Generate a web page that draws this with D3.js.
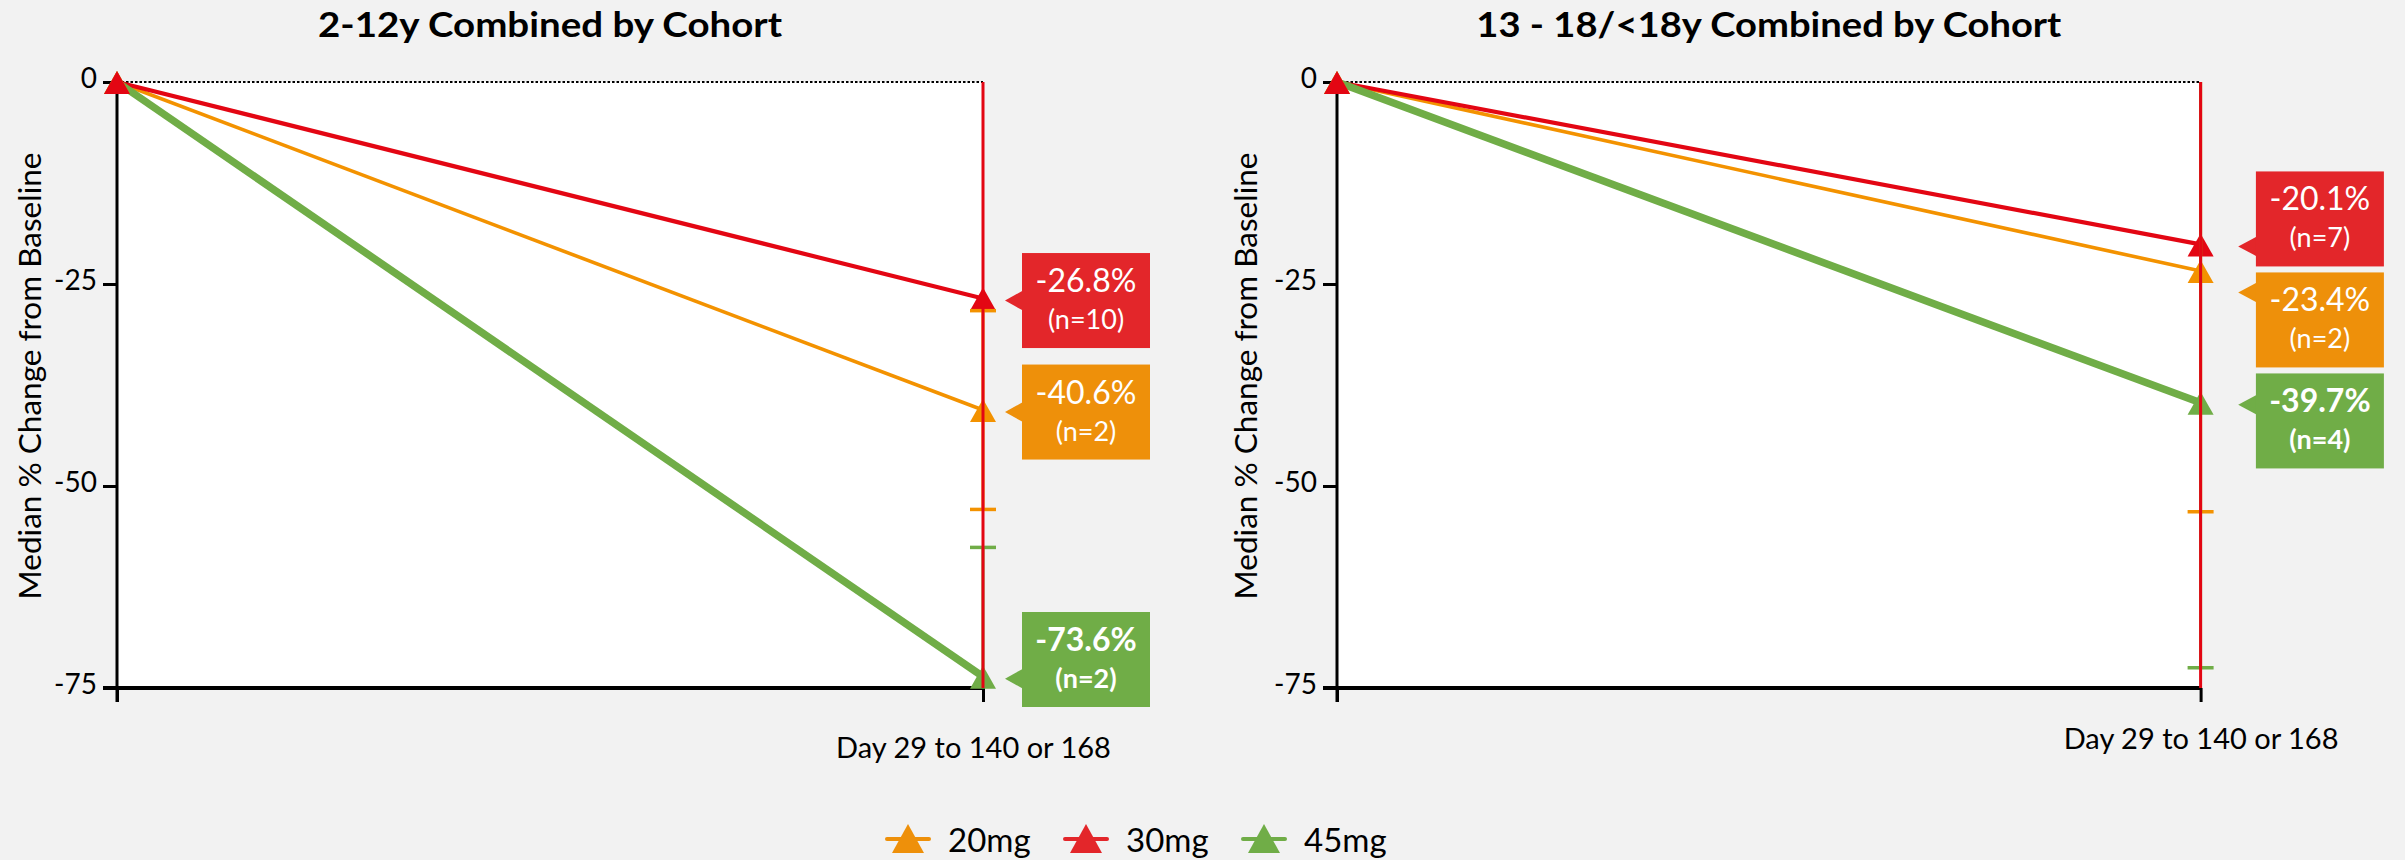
<!DOCTYPE html>
<html><head><meta charset="utf-8">
<script src="https://cdn.jsdelivr.net/npm/d3@7"></script>
<style>
body{margin:0;background:#f2f2f2;}
svg{display:block;font-family:Lato,'Open Sans',sans-serif;}
</style>
</head><body>
<svg id="chart" width="2405" height="860"></svg>
<script>
// ---------------- DATA ----------------
const series = ["20mg", "30mg", "45mg"];
const timepoints = ["Baseline", "Day 29 to 140 or 168"];
const yTicks = [0, -25, -50, -75];
const panelTitles = ["2-12y Combined by Cohort", "13 - 18/<18y Combined by Cohort"];
const baselineValues = [0, 0, 0];
// 2-12y panel
const endChild = [-40.6, -26.8, -73.6];
const nChild = [2, 10, 2];
const lowChild = [-52.9, -95, -89.6];
const highChild = [-28.3, 8, -57.6];
// 13-18y panel
const endTeen = [-23.4, -20.1, -39.7];
const nTeen = [2, 7, 4];
const lowTeen = [-53.2, -95, -72.5];
const highTeen = [6.4, 8, 5];

// ---------------- STYLE ----------------
const lineColor = ["#f39200", "#e30613", "#70ad47"];
const boxColor = ["#ee900a", "#e3262a", "#70ad47"];
const lineWidth = [3.6, 4.2, 7.5];
const labelWeight = ["normal", "normal", "bold"];

const svg = d3.select("#chart");
const y = d3.scaleLinear().domain([-75, 0]).range([688, 82]);

const panels = [
  {title: panelTitles[0], ends: endChild, n: nChild, lo: lowChild, hi: highChild, titleW: 464,
   x0: 117, x1: 983, tip: 22, boxL: 39, xlabPad: 35, xlabDx: -10, ylabX: 41},
  {title: panelTitles[1], ends: endTeen, n: nTeen, lo: lowTeen, hi: highTeen, titleW: 585,
   x0: 1337, x1: 2200.6, tip: 37.6, boxL: 55.3, xlabPad: 26, xlabDx: 0, ylabX: 1257}
];

const triPath = (w, up, down) => `M0,${-up}L${w},${down}L${-w},${down}Z`;

panels.forEach((p, pi) => {
  const x = d3.scalePoint().domain(timepoints).range([p.x0, p.x1]);
  const g = svg.append("g");

  // plot background
  g.append("rect").attr("x", p.x0).attr("y", y(0))
    .attr("width", p.x1 - p.x0).attr("height", y(-75) - y(0)).attr("fill", "#fff");

  // title
  g.append("text").attr("x", (p.x0 + p.x1) / 2).attr("y", 37)
    .attr("text-anchor", "middle").attr("font-size", 34).attr("font-weight", "bold")
    .attr("textLength", p.titleW).attr("lengthAdjust", "spacingAndGlyphs")
    .attr("fill", "#000").text(p.title);

  // y label
  g.append("text").attr("transform", `translate(${p.ylabX},376) rotate(-90)`)
    .attr("text-anchor", "middle").attr("font-size", 31.5).attr("fill", "#000")
    .text("Median % Change from Baseline");

  // zero dotted line
  g.append("line").attr("x1", p.x0).attr("x2", p.x1).attr("y1", y(0)).attr("y2", y(0))
    .attr("stroke", "#000").attr("stroke-width", 2).attr("stroke-dasharray", "2.5,2");

  // y axis
  const ya = g.append("g").attr("transform", `translate(${p.x0},0)`)
    .call(d3.axisLeft(y).tickValues(yTicks).tickSize(14).tickPadding(6).tickFormat(d => String(d)));
  ya.select(".domain").remove();
  ya.selectAll(".tick line").attr("stroke", "#000").attr("stroke-width", 3);
  ya.selectAll(".tick text").attr("font-size", 28).attr("fill", "#000")
    .attr("font-family", "Lato, sans-serif").attr("dy", "0.2em");
  g.append("line").attr("x1", p.x0).attr("x2", p.x0).attr("y1", y(0)).attr("y2", y(-75) + 14)
    .attr("stroke", "#000").attr("stroke-width", 3);

  // x axis
  const xa = g.append("g").attr("transform", `translate(0,${y(-75)})`)
    .call(d3.axisBottom(x).tickSize(14).tickPadding(p.xlabPad)
      .tickFormat((d, i) => i === timepoints.length - 1 ? d : ""));
  xa.select(".domain").remove();
  xa.selectAll(".tick line").attr("stroke", "#000").attr("stroke-width", 3);
  xa.selectAll(".tick text").attr("font-size", 29).attr("fill", "#000")
    .attr("font-family", "Lato, sans-serif").attr("dx", p.xlabDx);
  g.append("line").attr("x1", p.x0 - 14).attr("x2", p.x1).attr("y1", y(-75)).attr("y2", y(-75))
    .attr("stroke", "#000").attr("stroke-width", 4);

  // series lines
  const lineGen = d3.line().x(d => x(d.t)).y(d => y(d.v));
  [0, 1, 2].forEach(i => {
    const pts = [{t: timepoints[0], v: baselineValues[i]}, {t: timepoints[1], v: p.ends[i]}];
    g.append("path").datum(pts).attr("d", lineGen).attr("fill", "none")
      .attr("stroke", lineColor[i]).attr("stroke-width", lineWidth[i]);
  });
  // markers
  [2, 0, 1].forEach(i => {
    [{t: timepoints[0], v: baselineValues[i]}, {t: timepoints[1], v: p.ends[i]}].forEach(d => {
      g.append("path").attr("d", triPath(13, 11, 12))
        .attr("transform", `translate(${x(d.t)},${y(d.v)})`).attr("fill", lineColor[i]);
    });
  });

  // error bars (clipped to plot area)
  const clipId = "clip" + pi;
  svg.append("clipPath").attr("id", clipId).append("rect")
    .attr("x", p.x0 - 30).attr("y", y(0)).attr("width", p.x1 - p.x0 + 60).attr("height", y(-75) - y(0));
  const eg = g.append("g").attr("clip-path", `url(#${clipId})`);
  [0, 2, 1].forEach(i => {
    const xe = x(timepoints[1]);
    eg.append("line").attr("x1", xe).attr("x2", xe).attr("y1", y(p.hi[i])).attr("y2", y(p.lo[i]))
      .attr("stroke", lineColor[i]).attr("stroke-width", 3);
    [p.hi[i], p.lo[i]].forEach(v => {
      eg.append("line").attr("x1", xe - 13).attr("x2", xe + 13).attr("y1", y(v)).attr("y2", y(v))
        .attr("stroke", lineColor[i]).attr("stroke-width", 3.5);
    });
  });

  // callout labels: layout boxes to avoid overlap (push mostly downward)
  const boxH = 95, boxW = 128, gap = 6, maxBottom = 707, minTop = 90;
  const items = series.map((s, i) => ({i, target: y(p.ends[i]) + 2}))
    .sort((a, b) => a.target - b.target);
  items.forEach(d => d.c = d.target);
  for (let it = 0; it < 300; it++) {
    for (let k = 0; k < items.length - 1; k++) {
      const a = items[k], b = items[k + 1];
      const need = boxH + gap - (b.c - a.c);
      if (need > 0) { a.c -= need / 3; b.c += need * 2 / 3; }
    }
    items.forEach(d => {
      d.c = Math.min(maxBottom - boxH / 2, Math.max(minTop + boxH / 2, d.c));
    });
  }
  const xe = x(timepoints[1]);
  items.forEach(d => {
    const i = d.i;
    const top = d.c - boxH / 2;
    const bx = xe + p.boxL;
    const py = Math.min(top + boxH - 20, Math.max(top + 20, y(p.ends[i]) + 2));
    const lg = g.append("g");
    lg.append("path")
      .attr("d", `M${xe + p.tip},${py}L${bx + 1},${py - 10}L${bx + 1},${py + 10}Z`)
      .attr("fill", boxColor[i]);
    lg.append("rect").attr("x", bx).attr("y", top).attr("width", boxW).attr("height", boxH)
      .attr("fill", boxColor[i]);
    lg.append("text").attr("x", bx + boxW / 2).attr("y", top + 39)
      .attr("text-anchor", "middle").attr("font-size", 32).attr("font-weight", labelWeight[i])
      .attr("fill", "#fff").text(`${p.ends[i].toFixed(1)}%`);
    lg.append("text").attr("x", bx + boxW / 2).attr("y", top + 76)
      .attr("text-anchor", "middle").attr("font-size", 27).attr("font-weight", labelWeight[i])
      .attr("fill", "#fff").text(`(n=${p.n[i]})`);
  });
});

// legend
const leg = svg.append("g");
series.forEach((s, i) => {
  const lx = 908 + i * 178, ly = 839;
  const it = leg.append("g").attr("transform", `translate(${lx},${ly})`);
  it.append("line").attr("x1", -21).attr("x2", 21).attr("stroke", boxColor[i])
    .attr("stroke-width", 4).attr("stroke-linecap", "round");
  it.append("path").attr("d", triPath(16, 15, 14)).attr("fill", boxColor[i]);
  it.append("text").attr("x", 40).attr("y", 13).attr("font-size", 33).attr("fill", "#000").text(s);
});
</script>
</body></html>
